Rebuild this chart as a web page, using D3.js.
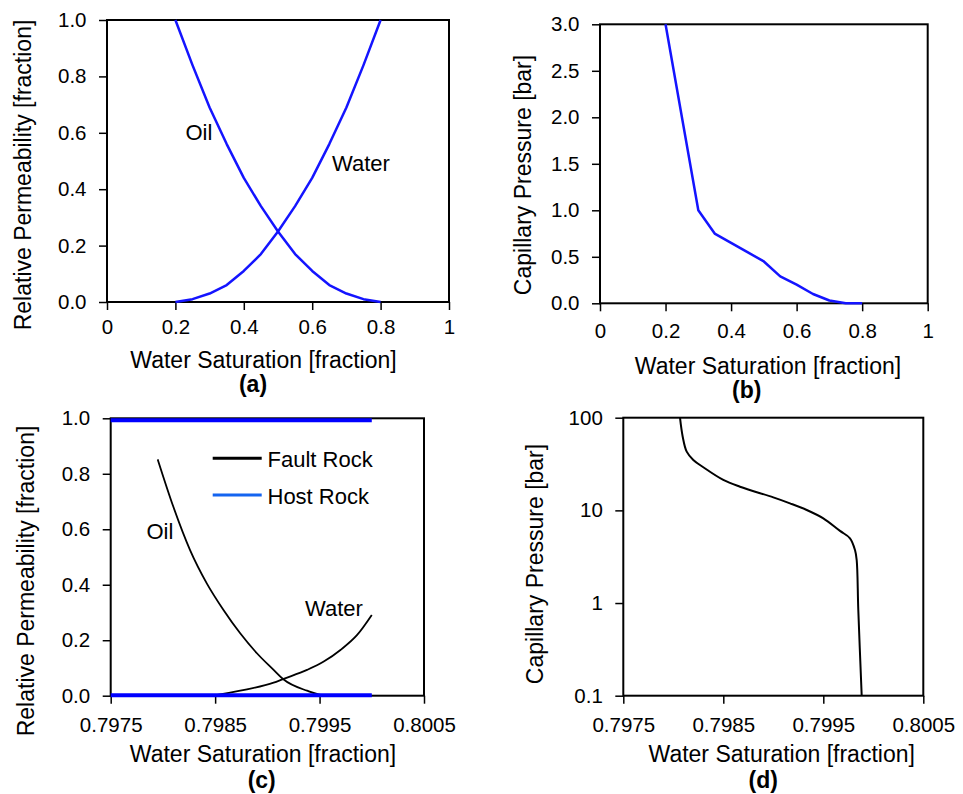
<!DOCTYPE html>
<html><head><meta charset="utf-8">
<script src="https://cdn.jsdelivr.net/npm/d3@7"></script>
<style>
body{margin:0;background:#fff}
svg text{font-family:"Liberation Sans",Arial,Helvetica,sans-serif;fill:#000}
</style>
</head><body>
<svg id="chart" width="963" height="794"></svg>
<script>
// ---------- DATA ----------
// Panel (a): relative permeability, host rock
const swA   = [0.2, 0.25, 0.3, 0.35, 0.4, 0.45, 0.5, 0.55, 0.6, 0.65, 0.7, 0.75, 0.8];
const kroA  = [1.0, 0.84, 0.69, 0.56, 0.44, 0.34, 0.25, 0.17, 0.11, 0.06, 0.03, 0.01, 0.0];
const krwA  = [0.0, 0.01, 0.03, 0.06, 0.11, 0.17, 0.25, 0.34, 0.44, 0.56, 0.69, 0.84, 1.0];

// Panel (b): capillary pressure, host rock
const swB   = [0.2, 0.3, 0.35, 0.4, 0.45, 0.5, 0.55, 0.6, 0.65, 0.7, 0.75, 0.8];
const pcB   = [3.0, 1.0, 0.75, 0.65, 0.55, 0.45, 0.29, 0.2, 0.1, 0.03, 0.0, 0.0];

// Panel (c): relative permeability, fault rock vs host rock
const swOilC = [0.79795, 0.7981, 0.79826, 0.79842, 0.79858, 0.79874, 0.7989, 0.79906, 0.79915, 0.79938, 0.79957, 0.8000];
const kroC   = [0.852, 0.681, 0.525, 0.405, 0.309, 0.225, 0.153, 0.093, 0.06, 0.018, 0.0, 0.0];
const swWatC = [0.79848, 0.79874, 0.79906, 0.79915, 0.79938, 0.79954, 0.7997, 0.79986, 0.8000];
const krwC   = [0.0, 0.018, 0.047, 0.06, 0.093, 0.123, 0.165, 0.219, 0.291];
const swHostC  = [0.7975, 0.8000];
const kroHostC = [0.993, 0.993];
const krwHostC = [0.002, 0.002];

// Panel (d): capillary pressure, fault rock (log)
const swD = [0.798067, 0.798094, 0.798134, 0.7982, 0.7983, 0.7985, 0.798667, 0.799, 0.799167, 0.799334, 0.7995, 0.799667, 0.799767, 0.799817, 0.799834, 0.79985, 0.799884];
const pcD = [100, 62.4, 43, 35, 29.2, 21.3, 18, 13.8, 11.9, 10.1, 8.2, 6.0, 5.0, 3.73, 2.91, 0.84, 0.1];

// Ticks
const ticksX01   = [0, 0.2, 0.4, 0.6, 0.8, 1];
const labelsX01  = ["0", "0.2", "0.4", "0.6", "0.8", "1"];
const ticksYkr   = [0, 0.2, 0.4, 0.6, 0.8, 1.0];
const labelsYkr  = ["0.0", "0.2", "0.4", "0.6", "0.8", "1.0"];
const ticksYpc   = [0, 0.5, 1.0, 1.5, 2.0, 2.5, 3.0];
const labelsYpc  = ["0.0", "0.5", "1.0", "1.5", "2.0", "2.5", "3.0"];
const ticksXf    = [0.7975, 0.7985, 0.7995, 0.8005];
const labelsXf   = ["0.7975", "0.7985", "0.7995", "0.8005"];
const ticksYlog  = [0.1, 1, 10, 100];
const labelsYlog = ["0.1", "1", "10", "100"];

const xTitle = "Water Saturation [fraction]";
const krTitle = "Relative Permeability [fraction]";
const pcTitle = "Capillary Pressure [bar]";
const legendNames = ["Fault Rock", "Host Rock"];

// ---------- DRAW ----------
const svg = d3.select("#chart");
const zip = (a, b) => a.map((v, i) => [v, b[i]]);
const TICK_FS = 20.5, TITLE_FS = 23, LABEL_FS = 22;

function panel(p) {
  const x = d3.scaleLinear().domain(p.xDomain).range([p.left, p.right]);
  const y = (p.yLog ? d3.scaleLog() : d3.scaleLinear()).domain(p.yDomain).range([p.bottom, p.top]);
  const g = svg.append("g");

  const xa = d3.axisBottom(x).tickValues(p.xTicks).tickFormat((d, i) => p.xLabels[i])
    .tickSizeInner(8).tickSizeOuter(0).tickPadding(p.xPad);
  const ya = d3.axisLeft(y).tickValues(p.yTicks).tickFormat((d, i) => p.yLabels[i])
    .tickSizeInner(8).tickSizeOuter(0).tickPadding(12.5);

  const gx = g.append("g").attr("transform", `translate(0,${p.bottom})`).call(xa);
  const gy = g.append("g").attr("transform", `translate(${p.left},0)`).call(ya);
  [gx, gy].forEach(a => {
    a.select(".domain").remove();
    a.selectAll(".tick line").attr("stroke", "#000").attr("stroke-width", 1.5);
    a.selectAll(".tick text").attr("font-size", TICK_FS).attr("fill", "#000")
      .style("font-family", '"Liberation Sans", Arial, sans-serif');
  });

  g.append("rect").attr("x", p.left).attr("y", p.top)
    .attr("width", p.right - p.left).attr("height", p.bottom - p.top)
    .attr("fill", "none").attr("stroke", "#000").attr("stroke-width", 2);

  p.series.forEach(s => {
    const line = d3.line().x(d => x(d[0])).y(d => y(d[1]));
    if (s.curve) line.curve(s.curve);
    g.append("path").datum(s.data).attr("d", line)
      .attr("fill", "none").attr("stroke", s.color).attr("stroke-width", s.width)
      .attr("stroke-linejoin", "round");
  });

  g.append("text").attr("x", p.xt[0]).attr("y", p.xt[1]).attr("text-anchor", "middle")
    .attr("font-size", TITLE_FS).text(xTitle);
  g.append("text").attr("transform", `translate(${p.yt[0]},${p.yt[1]}) rotate(-90)`)
    .attr("text-anchor", "middle").attr("font-size", TITLE_FS).text(p.yTitle);
  g.append("text").attr("x", p.lt[0]).attr("y", p.lt[1]).attr("text-anchor", "middle")
    .attr("font-size", TITLE_FS).attr("font-weight", "bold").text(p.letter);
  (p.labels || []).forEach(l => {
    g.append("text").attr("x", l[1]).attr("y", l[2]).attr("font-size", LABEL_FS).text(l[0]);
  });
  return { g, x, y };
}

const blue = "#1414ff";

panel({
  left: 107, right: 449, top: 20, bottom: 302,
  xDomain: [0, 1], yDomain: [0, 1],
  xTicks: ticksX01, xLabels: labelsX01, yTicks: ticksYkr, yLabels: labelsYkr, xPad: 9,
  series: [
    { data: zip(swA, kroA), color: blue, width: 2.5 },
    { data: zip(swA, krwA), color: blue, width: 2.5 }
  ],
  xt: [263.5, 368], yt: [31, 175], yTitle: krTitle, lt: [253, 392], letter: "(a)",
  labels: [["Oil", 185.5, 139.5], ["Water", 332, 171]]
});

panel({
  left: 600, right: 927.7, top: 24.3, bottom: 303.3,
  xDomain: [0, 1], yDomain: [0, 3],
  xTicks: ticksX01, xLabels: labelsX01, yTicks: ticksYpc, yLabels: labelsYpc, xPad: 12.5,
  series: [
    { data: zip(swB, pcB), color: blue, width: 2.5 }
  ],
  xt: [768, 374], yt: [530.5, 175], yTitle: pcTitle, lt: [746.7, 398], letter: "(b)"
});

const pc = panel({
  left: 110.7, right: 424, top: 418.3, bottom: 695.7,
  xDomain: [0.7975, 0.8005], yDomain: [0, 1],
  xTicks: ticksXf, xLabels: labelsXf, yTicks: ticksYkr, yLabels: labelsYkr, xPad: 14,
  series: [
    { data: zip(swOilC, kroC), color: "#000", width: 1.8, curve: d3.curveMonotoneX },
    { data: zip(swWatC, krwC), color: "#000", width: 1.8, curve: d3.curveMonotoneX },
    { data: zip(swHostC, kroHostC), color: "#0000ff", width: 4 },
    { data: zip(swHostC, krwHostC), color: "#0000ff", width: 4 }
  ],
  xt: [263, 761.7], yt: [34, 581], yTitle: krTitle, lt: [261.7, 788], letter: "(c)",
  labels: [["Oil", 146.5, 538.5], ["Water", 305, 616]]
});
// legend
const legColors = ["#000", "#1464f0"];
legendNames.forEach((n, i) => {
  const yy = 458.3 + i * 36.7;
  pc.g.append("line").attr("x1", 212.7).attr("x2", 261.7).attr("y1", yy).attr("y2", yy)
    .attr("stroke", legColors[i]).attr("stroke-width", 3);
  pc.g.append("text").attr("x", 267.5).attr("y", yy + 8.5).attr("font-size", LABEL_FS).text(n);
});

panel({
  left: 623.3, right: 923.3, top: 417.7, bottom: 695.7,
  xDomain: [0.7975, 0.8005], yDomain: [0.1, 100], yLog: true,
  xTicks: ticksXf, xLabels: labelsXf, yTicks: ticksYlog, yLabels: labelsYlog, xPad: 14,
  series: [
    { data: zip(swD, pcD), color: "#000", width: 2, curve: d3.curveCatmullRom.alpha(0.5) }
  ],
  xt: [781.7, 762.3], yt: [542.5, 564], yTitle: pcTitle, lt: [763.3, 788], letter: "(d)"
});
</script>
</body></html>
